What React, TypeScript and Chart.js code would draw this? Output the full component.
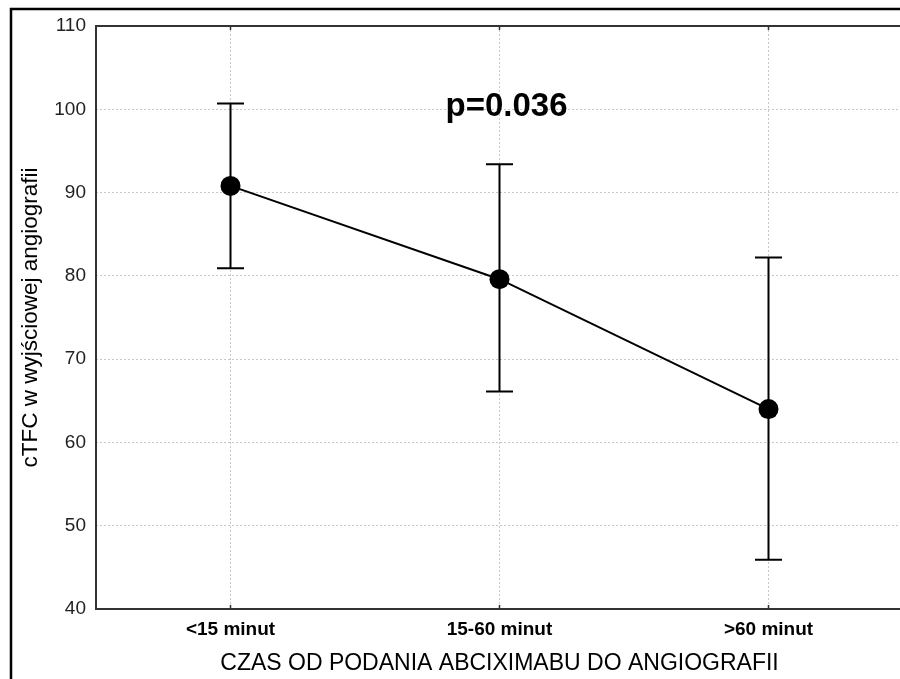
import React, { useEffect, useRef } from "react";
import { Chart, registerables } from "chart.js";

Chart.register(...registerables);

// ---- data ----
const categories = ["<15 minut", "15-60 minut", ">60 minut"];
const meanValues = [90.8, 79.6, 64.0];
const upperValues = [100.7, 93.4, 82.2];
const lowerValues = [80.9, 66.1, 45.9];
const yMin = 40;
const yMax = 110;
const yStep = 10;
const yAxisTitle = "cTFC w wyjściowej angiografii";
const xAxisTitle = "CZAS OD PODANIA ABCIXIMABU DO ANGIOGRAFII";
const annotationText = "p=0.036";
const annotationAt = { index: 1, value: 100.3 };

const CANVAS_W = 913;
const CANVAS_H = 679;
const FONT = "'Liberation Sans', Arial, Helvetica, sans-serif";

export default function App() {
  const ref = useRef<HTMLCanvasElement>(null);

  useEffect(() => {
    const canvas = ref.current;
    if (!canvas) return;

    const errorBars = {
      id: "errorBars",
      beforeDatasetsDraw(chart: any) {
        const { ctx } = chart;
        const x = chart.scales.x;
        const y = chart.scales.y;
        const cap = 13.5;
        ctx.save();
        ctx.strokeStyle = "#000";
        ctx.lineWidth = 2;
        categories.forEach((_c, i) => {
          const px = x.getPixelForValue(i);
          const yt = y.getPixelForValue(upperValues[i]);
          const yb = y.getPixelForValue(lowerValues[i]);
          ctx.beginPath();
          ctx.moveTo(px, yt);
          ctx.lineTo(px, yb);
          ctx.moveTo(px - cap, yt);
          ctx.lineTo(px + cap, yt);
          ctx.moveTo(px - cap, yb);
          ctx.lineTo(px + cap, yb);
          ctx.stroke();
        });
        ctx.restore();
      },
    };

    const frame = {
      id: "frame",
      afterDraw(chart: any) {
        const { ctx, chartArea: a } = chart;
        const x = chart.scales.x;
        const y = chart.scales.y;
        ctx.save();
        // plot area border
        ctx.strokeStyle = "#333";
        ctx.lineWidth = 2;
        ctx.strokeRect(a.left, a.top, a.right - a.left, a.bottom - a.top);
        // small inner tick marks on x axis
        ctx.lineWidth = 1.5;
        categories.forEach((_c, i) => {
          const px = x.getPixelForValue(i);
          ctx.beginPath();
          ctx.moveTo(px, a.bottom);
          ctx.lineTo(px, a.bottom - 4);
          ctx.moveTo(px, a.top);
          ctx.lineTo(px, a.top + 4);
          ctx.stroke();
        });
        // outer frame
        ctx.strokeStyle = "#000";
        ctx.lineWidth = 2.5;
        ctx.strokeRect(11, 9, chart.width + 20, chart.height + 20);
        // annotation
        ctx.fillStyle = "#000";
        ctx.font = `bold 33px ${FONT}`;
        ctx.textAlign = "center";
        ctx.textBaseline = "middle";
        ctx.fillText(
          annotationText,
          x.getPixelForValue(annotationAt.index) + 7,
          y.getPixelForValue(annotationAt.value)
        );
        ctx.restore();
      },
    };

    const chart = new Chart(canvas, {
      type: "line",
      data: {
        labels: categories,
        datasets: [
          {
            data: meanValues,
            borderColor: "#000",
            borderWidth: 2,
            pointRadius: 10,
            pointHoverRadius: 10,
            pointBackgroundColor: "#000",
            pointBorderColor: "#000",
            pointBorderWidth: 0,
            tension: 0,
            fill: false,
          },
        ],
      },
      options: {
        responsive: false,
        animation: false,
        devicePixelRatio: 1,
        events: [],
        layout: { padding: { top: 26, right: 3, left: 0, bottom: 0 } },
        plugins: {
          legend: { display: false },
          tooltip: { enabled: false },
        },
        scales: {
          x: {
            type: "category",
            offset: true,
            grid: {
              offset: false,
              color: "#c8c8c8",
              lineWidth: 1,
              drawTicks: false,
            },
            border: { display: false, dash: [2, 2] },
            ticks: {
              color: "#000",
              font: { family: FONT, size: 19, weight: "bold" },
              padding: 9,
              maxRotation: 0,
              autoSkip: false,
            },
            title: {
              display: true,
              text: xAxisTitle,
              color: "#000",
              font: { family: FONT, size: 23 },
              padding: { top: 0, bottom: 2 },
            },
            afterFit(scale: any) {
              scale.height = 70;
            },
          },
          y: {
            min: yMin,
            max: yMax,
            ticks: {
              stepSize: yStep,
              color: "#222",
              font: { family: FONT, size: 19 },
              padding: 10,
            },
            grid: { color: "#c8c8c8", lineWidth: 1, drawTicks: false },
            border: { display: false, dash: [2, 2] },
            title: {
              display: true,
              text: yAxisTitle,
              color: "#000",
              font: { family: FONT, size: 22.5 },
              padding: { top: 17, bottom: 0 },
            },
            afterFit(scale: any) {
              scale.width = 96;
            },
          },
        },
      },
      plugins: [errorBars, frame],
    } as any);

    return () => chart.destroy();
  }, []);

  return (
    <div
      style={{
        position: "fixed",
        left: 0,
        top: 0,
        width: 900,
        height: 679,
        overflow: "hidden",
        background: "#fff",
      }}
    >
      <canvas
        ref={ref}
        width={CANVAS_W}
        height={CANVAS_H}
        style={{ display: "block", width: CANVAS_W, height: CANVAS_H }}
      />
    </div>
  );
}
